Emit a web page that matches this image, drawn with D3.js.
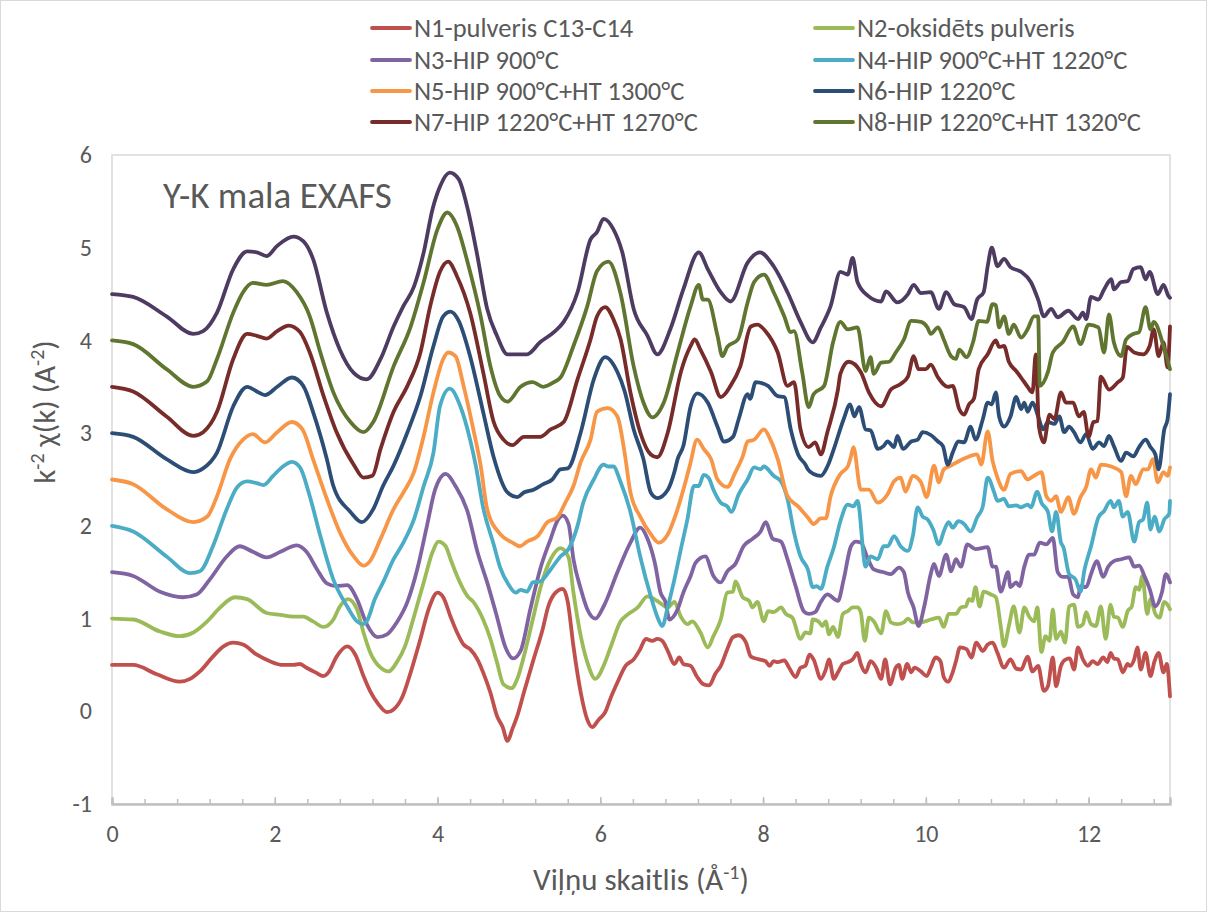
<!DOCTYPE html>
<html>
<head>
<meta charset="utf-8">
<script src="https://cdn.jsdelivr.net/npm/d3@7"></script>
<style>
  body { margin: 0; background: #fff; }
  svg text { font-family: Calibri, Carlito, Lato, "Open Sans", sans-serif; fill: #595959; }
</style>
</head>
<body>
<svg id="chart" width="1207" height="912"></svg>
<script>
// k (Å-1), k^-2 chi(k) offset curves
const n1 = [[0,0.5],[0.26,0.5],[0.55,0.4],[0.83,0.32],[0.96,0.35],[1.08,0.43],[1.24,0.59],[1.37,0.7],[1.49,0.74],[1.61,0.72],[1.78,0.61],[1.94,0.54],[2.1,0.5],[2.23,0.5],[2.31,0.51],[2.39,0.47],[2.5,0.42],[2.6,0.38],[2.66,0.42],[2.76,0.59],[2.89,0.7],[2.99,0.61],[3.09,0.38],[3.17,0.22],[3.27,0.08],[3.38,-0.01],[3.46,0.02],[3.57,0.16],[3.67,0.42],[3.79,0.78],[3.89,1.1],[4.0,1.28],[4.07,1.23],[4.16,1.02],[4.24,0.85],[4.32,0.72],[4.4,0.67],[4.49,0.56],[4.56,0.42],[4.65,0.2],[4.73,-0.05],[4.8,-0.17],[4.86,-0.32],[4.92,-0.19],[4.98,-0.05],[5.06,0.2],[5.18,0.56],[5.29,0.88],[5.36,1.13],[5.45,1.28],[5.54,1.32],[5.6,1.18],[5.67,0.7],[5.76,0.2],[5.84,-0.09],[5.9,-0.17],[5.98,-0.09],[6.06,-0.01],[6.13,0.15],[6.21,0.31],[6.31,0.49],[6.41,0.56],[6.49,0.67],[6.56,0.78],[6.64,0.76],[6.7,0.78],[6.76,0.76],[6.83,0.65],[6.91,0.51],[6.97,0.58],[7.02,0.51],[7.11,0.49],[7.19,0.37],[7.27,0.29],[7.34,0.28],[7.41,0.4],[7.48,0.49],[7.56,0.67],[7.63,0.8],[7.7,0.82],[7.79,0.74],[7.85,0.59],[7.95,0.56],[8.03,0.54],[8.08,0.49],[8.13,0.54],[8.18,0.53],[8.26,0.55],[8.32,0.47],[8.4,0.37],[8.46,0.47],[8.52,0.49],[8.57,0.61],[8.62,0.56],[8.71,0.35],[8.77,0.45],[8.81,0.56],[8.87,0.35],[8.92,0.42],[8.98,0.51],[9.04,0.53],[9.1,0.56],[9.16,0.63],[9.2,0.51],[9.26,0.42],[9.32,0.54],[9.39,0.47],[9.45,0.35],[9.5,0.56],[9.56,0.29],[9.63,0.47],[9.67,0.5],[9.71,0.35],[9.77,0.51],[9.82,0.42],[9.86,0.47],[9.94,0.43],[10.01,0.38],[10.06,0.47],[10.12,0.58],[10.18,0.54],[10.22,0.37],[10.27,0.32],[10.33,0.42],[10.37,0.54],[10.42,0.69],[10.5,0.67],[10.56,0.58],[10.62,0.74],[10.7,0.65],[10.76,0.72],[10.82,0.74],[10.88,0.63],[10.96,0.47],[11.04,0.56],[11.11,0.46],[11.17,0.45],[11.25,0.59],[11.31,0.43],[11.38,0.49],[11.45,0.22],[11.5,0.27],[11.56,0.58],[11.6,0.27],[11.66,0.49],[11.72,0.56],[11.77,0.57],[11.82,0.45],[11.87,0.69],[11.93,0.56],[11.99,0.49],[12.05,0.54],[12.11,0.51],[12.18,0.58],[12.23,0.53],[12.27,0.63],[12.31,0.57],[12.36,0.56],[12.42,0.42],[12.48,0.51],[12.51,0.49],[12.56,0.56],[12.6,0.69],[12.64,0.45],[12.7,0.63],[12.76,0.38],[12.81,0.54],[12.86,0.63],[12.92,0.42],[12.96,0.51],[13.0,0.16]]

const n2 = [[0,1.0],[0.26,0.99],[0.59,0.86],[0.83,0.81],[1.0,0.85],[1.17,0.97],[1.33,1.12],[1.51,1.23],[1.66,1.21],[1.9,1.06],[2.07,1.04],[2.23,1.02],[2.35,1.02],[2.47,0.97],[2.6,0.91],[2.72,0.99],[2.8,1.13],[2.9,1.21],[3.01,1.1],[3.09,0.85],[3.17,0.64],[3.3,0.47],[3.4,0.43],[3.5,0.53],[3.6,0.7],[3.71,1.02],[3.83,1.39],[3.94,1.72],[4.01,1.83],[4.1,1.78],[4.16,1.64],[4.24,1.46],[4.37,1.24],[4.44,1.18],[4.56,0.99],[4.65,0.78],[4.73,0.53],[4.81,0.29],[4.91,0.25],[4.98,0.35],[5.06,0.59],[5.17,0.99],[5.26,1.32],[5.39,1.64],[5.51,1.76],[5.61,1.66],[5.67,1.28],[5.76,0.81],[5.84,0.53],[5.94,0.35],[6.04,0.49],[6.13,0.7],[6.25,0.97],[6.33,1.04],[6.46,1.12],[6.58,1.24],[6.7,1.19],[6.83,1.12],[6.91,1.18],[6.99,1.02],[7.07,0.94],[7.13,0.97],[7.23,0.85],[7.32,0.69],[7.39,0.81],[7.48,0.99],[7.56,1.28],[7.63,1.29],[7.66,1.4],[7.75,1.23],[7.83,1.19],[7.87,1.12],[7.93,1.18],[8.01,0.97],[8.06,1.08],[8.13,1.07],[8.22,1.12],[8.28,1.05],[8.36,1.01],[8.46,0.78],[8.52,0.85],[8.58,0.84],[8.61,0.99],[8.68,0.97],[8.73,0.92],[8.77,0.97],[8.81,0.83],[8.86,0.91],[8.92,0.8],[8.98,1.05],[9.04,1.08],[9.1,1.12],[9.16,1.12],[9.2,1.07],[9.25,0.76],[9.3,1.01],[9.36,0.97],[9.45,0.84],[9.51,1.08],[9.57,0.96],[9.65,0.94],[9.73,0.96],[9.78,1.0],[9.84,0.96],[9.94,0.96],[10.06,0.99],[10.16,1.01],[10.22,0.91],[10.28,1.05],[10.37,1.05],[10.43,1.12],[10.49,1.13],[10.53,1.21],[10.57,1.19],[10.61,1.34],[10.66,1.13],[10.71,1.29],[10.8,1.26],[10.86,1.23],[10.92,0.92],[10.96,0.7],[11.02,0.92],[11.08,1.13],[11.15,0.85],[11.21,1.12],[11.27,1.02],[11.33,0.97],[11.37,1.12],[11.42,0.64],[11.47,0.81],[11.52,0.76],[11.56,1.1],[11.6,0.78],[11.66,0.86],[11.71,0.74],[11.76,1.13],[11.82,1.15],[11.87,0.91],[11.93,0.94],[11.97,1.07],[12.03,0.94],[12.09,0.92],[12.15,1.13],[12.21,0.78],[12.27,1.15],[12.31,1.02],[12.36,1.01],[12.42,0.91],[12.48,1.08],[12.53,1.13],[12.58,1.34],[12.62,1.31],[12.66,1.46],[12.72,1.05],[12.76,1.21],[12.82,1.05],[12.87,1.01],[12.93,1.18],[12.97,1.15],[13.0,1.1]]

const n3 = [[0,1.5],[0.26,1.46],[0.59,1.29],[0.87,1.23],[1.04,1.26],[1.2,1.42],[1.41,1.67],[1.57,1.78],[1.73,1.72],[1.9,1.66],[2.07,1.72],[2.27,1.79],[2.39,1.72],[2.52,1.53],[2.64,1.38],[2.76,1.35],[2.89,1.36],[3.01,1.21],[3.13,0.94],[3.26,0.8],[3.38,0.83],[3.5,0.96],[3.63,1.18],[3.75,1.53],[3.87,2.0],[3.97,2.39],[4.1,2.56],[4.22,2.43],[4.37,2.15],[4.49,1.72],[4.61,1.39],[4.73,1.02],[4.83,0.7],[4.93,0.57],[5.02,0.65],[5.14,1.1],[5.26,1.53],[5.39,1.86],[5.47,2.05],[5.54,2.11],[5.61,2.02],[5.67,1.64],[5.76,1.32],[5.84,1.1],[5.94,1.0],[6.04,1.13],[6.21,1.5],[6.37,1.82],[6.49,1.98],[6.58,1.86],[6.67,1.6],[6.74,1.28],[6.8,1.18],[6.85,0.99],[6.95,1.1],[7.02,1.28],[7.11,1.46],[7.17,1.6],[7.29,1.67],[7.39,1.46],[7.48,1.39],[7.56,1.51],[7.66,1.59],[7.76,1.78],[7.87,1.86],[7.97,1.94],[8.03,2.04],[8.12,1.86],[8.22,1.83],[8.3,1.64],[8.4,1.35],[8.5,1.08],[8.56,1.05],[8.64,1.07],[8.71,1.18],[8.79,1.26],[8.92,1.19],[8.99,1.42],[9.08,1.78],[9.14,1.83],[9.2,1.82],[9.29,1.64],[9.36,1.53],[9.48,1.5],[9.57,1.48],[9.67,1.55],[9.73,1.5],[9.78,1.28],[9.85,1.12],[9.91,0.92],[9.98,1.13],[10.06,1.48],[10.1,1.59],[10.16,1.46],[10.25,1.69],[10.31,1.51],[10.37,1.64],[10.43,1.56],[10.51,1.8],[10.61,1.75],[10.76,1.77],[10.82,1.56],[10.86,1.56],[10.92,1.29],[11.01,1.5],[11.04,1.34],[11.11,1.39],[11.15,1.35],[11.21,1.56],[11.27,1.69],[11.33,1.69],[11.4,1.82],[11.48,1.8],[11.56,1.87],[11.62,1.5],[11.68,1.45],[11.75,1.45],[11.81,1.26],[11.87,1.23],[11.9,1.35],[11.97,1.34],[12.03,1.48],[12.1,1.62],[12.18,1.45],[12.24,1.56],[12.31,1.62],[12.4,1.64],[12.5,1.66],[12.56,1.56],[12.62,1.57],[12.69,1.45],[12.75,1.32],[12.82,1.13],[12.9,1.28],[12.95,1.48],[13.0,1.39]]

const n4 = [[0,2.0],[0.26,1.94],[0.67,1.67],[0.96,1.49],[1.08,1.51],[1.24,1.78],[1.41,2.18],[1.54,2.42],[1.66,2.48],[1.78,2.46],[1.86,2.44],[1.98,2.54],[2.1,2.64],[2.21,2.69],[2.31,2.63],[2.43,2.32],[2.56,1.89],[2.72,1.42],[2.89,1.13],[3.01,0.97],[3.09,0.94],[3.13,0.97],[3.23,1.21],[3.33,1.39],[3.46,1.64],[3.58,1.82],[3.71,2.07],[3.83,2.43],[3.95,2.79],[4.03,3.29],[4.15,3.48],[4.28,3.29],[4.4,2.93],[4.47,2.65],[4.56,2.2],[4.69,1.8],[4.77,1.55],[4.87,1.37],[4.96,1.28],[5.02,1.31],[5.1,1.29],[5.17,1.39],[5.26,1.4],[5.39,1.53],[5.51,1.67],[5.61,1.75],[5.72,2.0],[5.79,2.25],[5.92,2.5],[6.04,2.66],[6.1,2.64],[6.16,2.64],[6.25,2.47],[6.37,2.15],[6.49,1.67],[6.62,1.24],[6.7,1.02],[6.76,0.92],[6.83,1.13],[6.91,1.42],[6.99,1.75],[7.07,2.07],[7.15,2.43],[7.21,2.43],[7.27,2.55],[7.33,2.52],[7.39,2.39],[7.48,2.25],[7.56,2.21],[7.61,2.15],[7.7,2.34],[7.81,2.5],[7.89,2.63],[7.97,2.61],[8.01,2.64],[8.13,2.54],[8.22,2.48],[8.3,2.29],[8.38,1.93],[8.46,1.67],[8.55,1.53],[8.61,1.34],[8.66,1.35],[8.71,1.32],[8.79,1.56],[8.87,1.77],[8.95,2.05],[9.04,2.23],[9.11,2.21],[9.16,2.27],[9.26,1.56],[9.32,1.67],[9.41,1.64],[9.48,1.78],[9.53,1.78],[9.61,1.89],[9.69,1.78],[9.78,1.73],[9.84,1.89],[9.9,2.2],[9.96,2.1],[10.02,2.07],[10.09,1.96],[10.16,1.8],[10.22,1.94],[10.28,2.04],[10.33,1.98],[10.4,2.05],[10.47,2.02],[10.55,1.94],[10.63,2.09],[10.7,2.21],[10.76,2.52],[10.84,2.36],[10.88,2.27],[10.96,2.29],[11.02,2.21],[11.11,2.22],[11.17,2.2],[11.25,2.23],[11.29,2.2],[11.37,2.37],[11.42,2.25],[11.5,2.15],[11.55,1.94],[11.6,2.15],[11.66,1.82],[11.69,1.77],[11.76,1.48],[11.84,1.42],[11.9,1.29],[11.95,1.53],[12.03,1.78],[12.12,2.09],[12.19,2.16],[12.27,2.27],[12.31,2.2],[12.37,2.27],[12.42,2.1],[12.48,2.15],[12.56,1.83],[12.62,2.04],[12.67,2.07],[12.72,2.25],[12.76,1.96],[12.81,2.1],[12.87,1.94],[12.93,2.07],[12.99,2.13],[13.0,2.27]]

const n5 = [[0,2.5],[0.26,2.45],[0.67,2.18],[1.0,2.04],[1.17,2.1],[1.29,2.32],[1.45,2.72],[1.61,2.93],[1.73,2.99],[1.88,2.9],[2.03,3.01],[2.21,3.12],[2.34,3.04],[2.47,2.72],[2.64,2.29],[2.8,1.93],[2.97,1.67],[3.09,1.57],[3.17,1.62],[3.3,1.86],[3.46,2.18],[3.58,2.36],[3.71,2.58],[3.83,2.97],[3.95,3.44],[4.07,3.8],[4.13,3.87],[4.22,3.83],[4.32,3.51],[4.44,3.04],[4.53,2.65],[4.61,2.18],[4.77,1.91],[4.92,1.82],[5.01,1.78],[5.1,1.83],[5.23,1.89],[5.35,2.04],[5.47,2.09],[5.57,2.25],[5.67,2.43],[5.76,2.69],[5.88,2.93],[5.96,3.23],[6.09,3.27],[6.21,3.18],[6.3,2.78],[6.37,2.36],[6.49,2.1],[6.62,1.91],[6.72,1.82],[6.83,1.91],[6.93,2.13],[7.02,2.39],[7.1,2.65],[7.19,2.93],[7.27,2.83],[7.36,2.72],[7.44,2.5],[7.56,2.42],[7.66,2.58],[7.75,2.75],[7.81,2.91],[7.89,2.93],[8.01,3.04],[8.09,2.93],[8.18,2.72],[8.3,2.32],[8.43,2.21],[8.55,2.09],[8.62,2.02],[8.71,2.08],[8.77,2.08],[8.83,2.32],[8.95,2.56],[9.04,2.64],[9.08,2.75],[9.11,2.85],[9.2,2.39],[9.3,2.39],[9.41,2.25],[9.53,2.34],[9.61,2.48],[9.69,2.52],[9.75,2.37],[9.84,2.54],[9.94,2.47],[10.01,2.31],[10.1,2.65],[10.16,2.47],[10.22,2.61],[10.31,2.65],[10.41,2.7],[10.51,2.74],[10.63,2.77],[10.68,2.66],[10.76,3.02],[10.82,2.7],[10.88,2.52],[10.96,2.39],[11.04,2.56],[11.17,2.59],[11.25,2.5],[11.33,2.54],[11.42,2.58],[11.48,2.32],[11.54,2.27],[11.6,2.32],[11.66,2.15],[11.75,2.31],[11.82,2.13],[11.9,2.31],[11.97,2.42],[12.03,2.61],[12.09,2.52],[12.15,2.66],[12.28,2.64],[12.4,2.58],[12.46,2.32],[12.52,2.54],[12.58,2.45],[12.67,2.61],[12.73,2.61],[12.79,2.72],[12.85,2.47],[12.92,2.58],[12.97,2.54],[13.0,2.63]]

const n6 = [[0,3.0],[0.26,2.96],[0.67,2.72],[1.0,2.58],[1.12,2.62],[1.29,2.79],[1.49,3.29],[1.66,3.5],[1.78,3.45],[1.88,3.41],[2.03,3.5],[2.21,3.6],[2.35,3.51],[2.47,3.23],[2.64,2.72],[2.72,2.43],[2.93,2.15],[3.07,2.04],[3.21,2.18],[3.33,2.43],[3.46,2.65],[3.63,3.01],[3.79,3.4],[3.95,3.94],[4.07,4.26],[4.16,4.31],[4.26,4.21],[4.4,3.83],[4.56,3.23],[4.69,2.74],[4.86,2.36],[4.98,2.31],[5.06,2.36],[5.18,2.39],[5.3,2.45],[5.41,2.5],[5.51,2.61],[5.6,2.62],[5.76,3.01],[5.92,3.58],[6.06,3.82],[6.21,3.66],[6.3,3.45],[6.41,3.04],[6.53,2.72],[6.62,2.36],[6.7,2.3],[6.83,2.39],[6.91,2.58],[6.95,2.72],[7.02,2.86],[7.11,3.29],[7.19,3.43],[7.32,3.33],[7.44,3.07],[7.52,2.91],[7.63,2.96],[7.7,3.15],[7.81,3.42],[7.84,3.37],[7.91,3.55],[8.06,3.51],[8.18,3.4],[8.26,3.39],[8.34,3.04],[8.43,2.77],[8.52,2.66],[8.55,2.61],[8.62,2.56],[8.71,2.54],[8.79,2.64],[8.87,2.83],[8.99,3.15],[9.07,3.31],[9.12,3.18],[9.18,3.28],[9.26,3.04],[9.32,3.03],[9.41,2.83],[9.48,2.86],[9.53,2.91],[9.61,2.85],[9.65,2.97],[9.72,2.83],[9.82,2.91],[9.9,2.93],[9.96,3.01],[10.06,2.98],[10.15,2.91],[10.21,2.86],[10.27,2.66],[10.33,2.79],[10.4,2.91],[10.47,2.9],[10.55,3.07],[10.61,2.93],[10.7,3.15],[10.76,3.33],[10.81,3.31],[10.86,3.44],[10.9,3.18],[10.96,3.07],[11.04,3.18],[11.11,3.39],[11.17,3.26],[11.21,3.33],[11.25,3.23],[11.31,3.33],[11.38,3.18],[11.44,3.04],[11.5,3.12],[11.58,3.1],[11.64,3.18],[11.7,3.01],[11.76,3.07],[11.82,3.01],[11.9,2.9],[11.97,2.99],[12.05,2.83],[12.13,2.9],[12.19,2.86],[12.25,2.97],[12.31,2.86],[12.4,2.7],[12.46,2.79],[12.55,2.75],[12.62,2.85],[12.7,2.93],[12.76,2.85],[12.82,2.77],[12.86,2.61],[12.93,3.04],[12.97,3.15],[13.0,3.42]]

const n7 = [[0,3.5],[0.26,3.45],[0.67,3.18],[1.0,2.97],[1.12,3.01],[1.29,3.23],[1.49,3.8],[1.66,4.07],[1.78,4.05],[1.9,4.02],[2.03,4.1],[2.17,4.16],[2.31,4.09],[2.43,3.87],[2.6,3.4],[2.76,3.01],[2.97,2.66],[3.09,2.52],[3.2,2.54],[3.3,2.83],[3.46,3.23],[3.63,3.51],[3.79,3.87],[3.91,4.37],[4.03,4.74],[4.13,4.85],[4.24,4.69],[4.4,4.3],[4.56,3.66],[4.69,3.12],[4.81,2.93],[4.92,2.87],[5.06,2.96],[5.26,2.96],[5.39,3.04],[5.55,3.12],[5.72,3.58],[5.88,4.01],[5.96,4.26],[6.06,4.36],[6.16,4.23],[6.25,4.01],[6.37,3.44],[6.49,3.01],[6.62,2.77],[6.7,2.74],[6.83,3.01],[6.99,3.66],[7.11,3.94],[7.16,4.01],[7.23,3.9],[7.36,3.66],[7.48,3.39],[7.6,3.51],[7.72,3.72],[7.85,4.15],[7.93,4.17],[8.03,4.1],[8.18,3.87],[8.3,3.51],[8.38,3.55],[8.46,3.04],[8.56,2.85],[8.64,2.9],[8.71,2.77],[8.79,3.01],[8.92,3.47],[8.95,3.64],[9.05,3.77],[9.2,3.66],[9.3,3.44],[9.45,3.29],[9.57,3.47],[9.69,3.53],[9.78,3.61],[9.85,3.83],[9.91,3.69],[10.0,3.69],[10.06,3.74],[10.15,3.6],[10.27,3.5],[10.33,3.51],[10.41,3.26],[10.47,3.2],[10.53,3.31],[10.59,3.37],[10.65,3.69],[10.76,3.85],[10.86,4.0],[10.9,3.93],[10.96,3.94],[11.02,3.77],[11.11,3.67],[11.17,3.6],[11.25,3.5],[11.31,3.44],[11.35,3.85],[11.39,3.07],[11.45,2.9],[11.52,3.2],[11.58,3.15],[11.66,3.44],[11.72,3.33],[11.81,3.33],[11.88,3.18],[11.94,3.23],[12.0,2.96],[12.06,3.12],[12.11,3.13],[12.15,3.61],[12.25,3.47],[12.36,3.55],[12.42,3.6],[12.47,3.93],[12.56,3.87],[12.67,3.85],[12.75,3.94],[12.8,4.12],[12.86,3.83],[12.92,3.98],[12.97,3.71],[13.0,4.15]]

const n8 = [[0,4.0],[0.26,3.96],[0.67,3.69],[1.0,3.5],[1.17,3.56],[1.29,3.8],[1.49,4.3],[1.61,4.52],[1.73,4.62],[1.9,4.6],[2.1,4.64],[2.27,4.52],[2.43,4.26],[2.56,3.87],[2.72,3.44],[2.93,3.12],[3.09,3.01],[3.21,3.12],[3.46,3.72],[3.67,4.15],[3.83,4.63],[4.0,5.2],[4.12,5.38],[4.24,5.23],[4.37,4.84],[4.53,4.26],[4.65,3.72],[4.77,3.4],[4.86,3.34],[5.02,3.5],[5.17,3.55],[5.3,3.5],[5.43,3.55],[5.51,3.6],[5.67,3.94],[5.84,4.37],[5.96,4.75],[6.1,4.85],[6.25,4.5],[6.41,3.72],[6.53,3.33],[6.64,3.17],[6.78,3.33],[6.95,3.87],[7.11,4.37],[7.21,4.6],[7.26,4.44],[7.32,4.44],[7.44,4.05],[7.5,3.83],[7.56,3.93],[7.69,4.01],[7.81,4.41],[7.89,4.63],[8.01,4.71],[8.13,4.52],[8.26,4.26],[8.34,4.09],[8.38,4.1],[8.48,3.66],[8.56,3.28],[8.62,3.42],[8.75,3.51],[8.86,3.98],[8.95,4.2],[9.04,4.12],[9.16,4.14],[9.26,3.67],[9.32,3.82],[9.36,3.64],[9.45,3.76],[9.55,3.77],[9.63,3.87],[9.73,4.01],[9.82,4.21],[9.94,4.2],[10.02,4.14],[10.06,4.07],[10.15,4.14],[10.22,4.01],[10.31,3.83],[10.37,3.8],[10.41,3.9],[10.5,3.82],[10.58,3.98],[10.65,4.21],[10.75,4.2],[10.82,4.39],[10.86,4.38],[10.9,4.14],[10.96,4.26],[11.02,4.07],[11.08,4.17],[11.17,4.03],[11.25,4.12],[11.33,4.26],[11.38,4.26],[11.4,3.51],[11.5,3.66],[11.56,3.87],[11.68,3.98],[11.81,4.15],[11.9,3.96],[12.0,4.17],[12.12,4.14],[12.19,3.87],[12.25,4.28],[12.31,3.98],[12.4,3.83],[12.46,4.01],[12.55,4.07],[12.62,4.09],[12.7,4.36],[12.76,4.12],[12.8,4.2],[12.92,3.94],[13.0,3.69]]

// top curve has no legend entry in the source
const n9 = [[0,4.5],[0.26,4.47],[0.67,4.26],[1.0,4.07],[1.12,4.1],[1.29,4.3],[1.49,4.77],[1.66,4.96],[1.78,4.95],[1.9,4.91],[2.03,5.02],[2.23,5.12],[2.35,5.07],[2.47,4.88],[2.64,4.3],[2.8,3.9],[2.97,3.65],[3.13,3.58],[3.3,3.8],[3.46,4.15],[3.58,4.37],[3.71,4.58],[3.83,4.95],[3.94,5.42],[4.03,5.66],[4.15,5.81],[4.26,5.74],[4.37,5.42],[4.49,4.91],[4.61,4.34],[4.73,4.05],[4.86,3.85],[5.1,3.85],[5.26,3.98],[5.43,4.09],[5.55,4.2],[5.72,4.52],[5.88,5.09],[5.96,5.17],[6.04,5.31],[6.16,5.2],[6.27,4.95],[6.41,4.34],[6.58,4.05],[6.7,3.85],[6.86,4.12],[7.02,4.55],[7.21,4.95],[7.32,4.77],[7.48,4.52],[7.6,4.42],[7.81,4.84],[7.96,4.95],[8.13,4.8],[8.3,4.52],[8.46,4.2],[8.61,3.98],[8.71,4.14],[8.83,4.37],[8.95,4.74],[9.04,4.71],[9.1,4.89],[9.16,4.63],[9.29,4.48],[9.45,4.42],[9.51,4.53],[9.65,4.41],[9.78,4.5],[9.85,4.6],[9.94,4.51],[10.06,4.52],[10.16,4.34],[10.25,4.52],[10.35,4.39],[10.47,4.36],[10.56,4.23],[10.63,4.44],[10.71,4.52],[10.76,4.8],[10.81,5.0],[10.88,4.8],[10.96,4.88],[11.04,4.79],[11.17,4.74],[11.29,4.63],[11.38,4.44],[11.45,4.26],[11.54,4.34],[11.62,4.25],[11.75,4.32],[11.87,4.23],[11.93,4.3],[11.97,4.23],[12.03,4.47],[12.12,4.44],[12.19,4.55],[12.28,4.66],[12.31,4.55],[12.4,4.63],[12.48,4.64],[12.55,4.77],[12.64,4.79],[12.7,4.66],[12.75,4.74],[12.85,4.5],[12.92,4.6],[12.98,4.48],[13.0,4.46]]

const seriesNames = [
  'N1-pulveris C13-C14', 'N2-oksidēts pulveris', 'N3-HIP 900°C',
  'N4-HIP 900°C+HT 1220°C', 'N5-HIP 900°C+HT 1300°C', 'N6-HIP 1220°C',
  'N7-HIP 1220°C+HT 1270°C', 'N8-HIP 1220°C+HT 1320°C', null
]
const xTickValues = [0, 2, 4, 6, 8, 10, 12]
const yTickValues = [-1, 0, 1, 2, 3, 4, 5, 6]

const colors = ['#C0504D', '#9BBB59', '#8064A2', '#4BACC6', '#F79646', '#2C4D75', '#772C2A', '#5F7530', '#4D3B62']
const allSeries = [n1, n2, n3, n4, n5, n6, n7, n8, n9]

const svg = d3.select('#chart')

const plot = { left: 112, right: 1170, top: 155, bottom: 804 }

const x = d3.scaleLinear().domain([0, 13]).range([plot.left, plot.right])
const y = d3.scaleLinear().domain([-1, 6]).range([plot.bottom, plot.top])

// plain hyphen for negatives, like the source
const fmt = d => String(d)

// chart frame
svg.append('rect')
  .attr('x', 0.5).attr('y', 0.5)
  .attr('width', 1206).attr('height', 911)
  .attr('fill', '#fff')
  .attr('stroke', '#d9d9d9')

// plot area border
svg.append('rect')
  .attr('x', plot.left).attr('y', plot.top)
  .attr('width', plot.right - plot.left).attr('height', plot.bottom - plot.top)
  .attr('fill', 'none')
  .attr('stroke', '#d9d9d9')
  .attr('stroke-width', 1.5)

// minor ticks every 0.4
svg.append('g')
  .attr('class', 'axis minor')
  .attr('transform', `translate(0, ${ plot.bottom })`)
  .call(d3.axisBottom(x).tickValues(d3.range(0, 13, 0.4)).tickSize(-5).tickFormat(''))

// major ticks + labels
svg.append('g')
  .attr('class', 'axis x-axis')
  .attr('transform', `translate(0, ${ plot.bottom })`)
  .call(d3.axisBottom(x).tickValues(xTickValues).tickSize(-7).tickPadding(21).tickFormat(fmt))

svg.selectAll('.axis path.domain').attr('stroke', '#bfbfbf').attr('stroke-width', 2)
svg.selectAll('.axis .tick line').attr('stroke', '#bfbfbf').attr('stroke-width', 1.5)
svg.selectAll('.x-axis .tick text').attr('font-size', 24).attr('fill', '#595959')

svg.append('g')
  .attr('class', 'y-axis')
  .attr('transform', `translate(${ plot.left }, 0)`)
  .call(d3.axisLeft(y).tickValues(yTickValues).tickSize(0).tickPadding(20).tickFormat(fmt))
  .call(g => g.select('.domain').remove())
  .selectAll('text').attr('font-size', 24).attr('fill', '#595959')

svg.selectAll('.tick text').attr('font-family', null)

// curves
const line = d3.line()
  .x(d => x(d[0]))
  .y(d => y(d[1]))
  .curve(d3.curveMonotoneX)

svg.append('g')
  .selectAll('path')
  .data(allSeries)
  .join('path')
  .attr('d', line)
  .attr('fill', 'none')
  .attr('stroke', (d, i) => colors[i])
  .attr('stroke-width', 3.8)
  .attr('stroke-linejoin', 'round')
  .attr('stroke-linecap', 'round')

// chart title
svg.append('text')
  .attr('x', 163).attr('y', 208)
  .attr('font-size', 37)
  .text('Y-K mala EXAFS')

// x axis title
const xt = svg.append('text')
  .attr('x', 641).attr('y', 890)
  .attr('text-anchor', 'middle')
  .attr('font-size', 31)
xt.append('tspan').text('Viļņu skaitlis (Å')
xt.append('tspan').attr('dy', -11).attr('font-size', 20).text('-1')
xt.append('tspan').attr('dy', 11).text(')')

// y axis title
const yt = svg.append('text')
  .attr('transform', 'translate(55, 412) rotate(-90)')
  .attr('text-anchor', 'middle')
  .attr('font-size', 31)
yt.append('tspan').text('k')
yt.append('tspan').attr('dy', -11).attr('font-size', 20).text('-2')
yt.append('tspan').attr('dy', 11).text(' χ(k) (A')
yt.append('tspan').attr('dy', -11).attr('font-size', 20).text('-2')
yt.append('tspan').attr('dy', 11).text(')')

// legend, two columns
const legendCols = [372, 815]
const legendRows = [28, 60, 91, 122]
const legend = svg.append('g').attr('class', 'legend')

seriesNames.forEach((name, i) => {
  if (!name) return
  const lx = legendCols[i % 2]
  const ly = legendRows[Math.floor(i / 2)]
  legend.append('line')
    .attr('x1', lx).attr('x2', lx + 38)
    .attr('y1', ly).attr('y2', ly)
    .attr('stroke', colors[i])
    .attr('stroke-width', 3.8)
    .attr('stroke-linecap', 'round')
  legend.append('text')
    .attr('x', lx + 42).attr('y', ly + 9)
    .attr('font-size', 26.5)
    .text(name)
})
</script>
</body>
</html>
